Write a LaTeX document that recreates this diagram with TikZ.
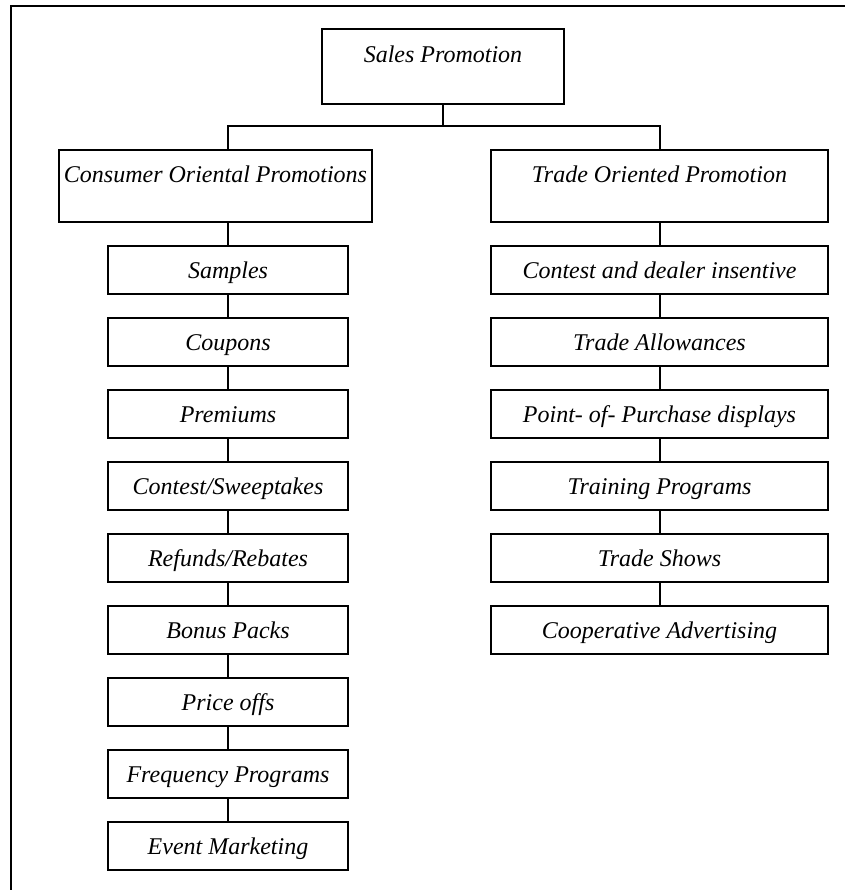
\documentclass[tikz,border=0pt]{standalone}
\usepackage{fontspec}
\setmainfont{Liberation Serif}
\usetikzlibrary{positioning}
\tikzset{
  box/.style={draw=black,line width=1.6pt,fill=white,inner sep=0pt,
    font=\itshape\fontsize{24}{27}\selectfont},        % every box
  headbox/.style={box,text height=33pt,text depth=39pt}, % branch heads
  itembox/.style={box,text height=32pt,text depth=16pt}, % list entries
  link/.style={line width=1.6pt},
  frame/.style={line width=1.8pt},
}

\begin{document}
\begin{tikzpicture}[x=1pt,y=-1pt]
  \useasboundingbox (0,0) rectangle (845,890);
  % page frame (only left and top edge show)
  \draw[frame] (11,890) -- (11,6) -- (845,6);

  \node[box,text height=34pt,text depth=41pt,minimum width=242pt] (sales) at (443,66.5) {Sales Promotion};
  \node[headbox,minimum width=313pt] (consumer) at (215.5,186) {Consumer Oriental Promotions};
  \node[headbox,minimum width=337pt] (trade) at (659.5,186) {Trade Oriented Promotion};

  % consumer column
  \foreach \txt [count=\i] in {Samples,Coupons,Premiums,Contest/Sweeptakes,Refunds/Rebates,
      Bonus Packs,Price offs,Frequency Programs,Event Marketing}
    \node[itembox,minimum width=240pt] (c\i) at (228,198+72*\i) {\txt};
  % trade column
  \foreach \txt [count=\i] in {Contest and dealer insentive,Trade Allowances,
      Point- of- Purchase displays,Training Programs,Trade Shows,Cooperative Advertising}
    \node[itembox,minimum width=337pt] (t\i) at (659.5,198+72*\i) {\txt};

  \coordinate (busL) at (228,126);
  \coordinate (busR) at (660,126);
  \draw[link] (sales.south) -- (sales.south |- busL);
  \draw[link] (consumer.north -| c1) -- (busL) -- (busR) -- (trade.north -| busR);
  \draw[link] (consumer.south -| c1) -- (c1.north);
  \draw[link] (trade.south -| busR) -- (t1.north -| busR);
  \foreach \i [remember=\i as \j (initially 1)] in {2,...,9}
    \draw[link] (c\j.south) -- (c\i.north);
  \foreach \i [remember=\i as \j (initially 1)] in {2,...,6}
    \draw[link] (t\j.south -| busR) -- (t\i.north -| busR);
\end{tikzpicture}
\end{document}
